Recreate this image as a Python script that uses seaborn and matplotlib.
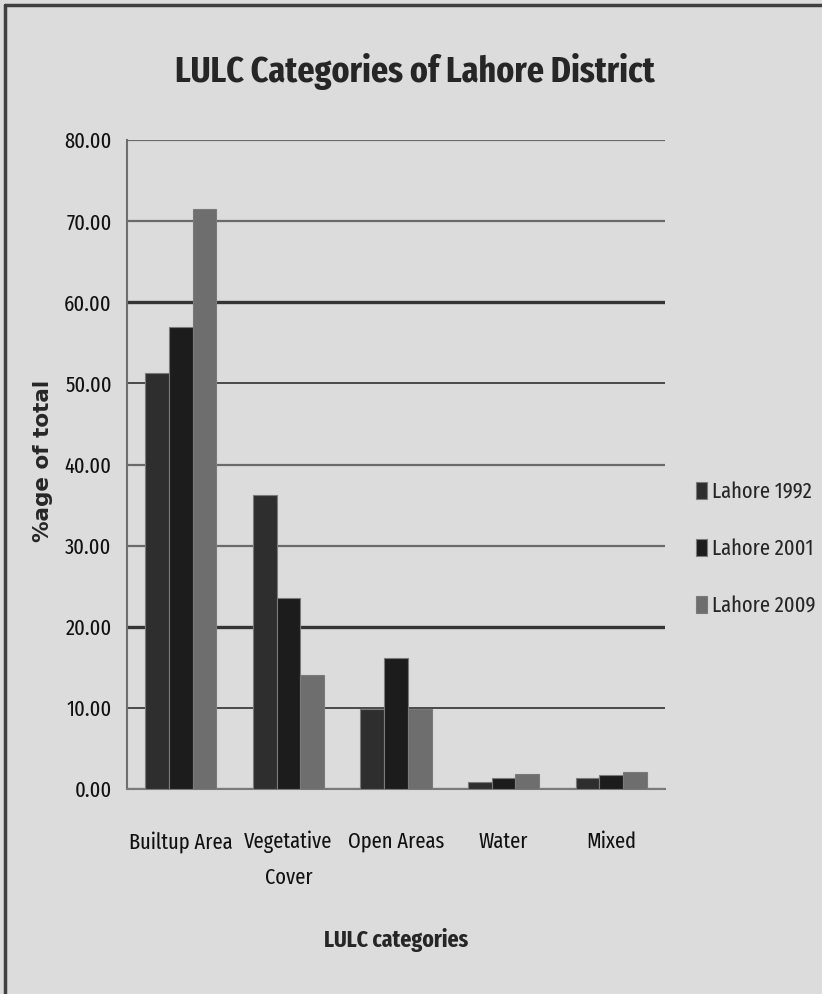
import pandas as pd
import matplotlib
matplotlib.use("Agg")
import matplotlib.pyplot as plt
from matplotlib.lines import Line2D
import seaborn as sns

# --- data ---
categories = ["Builtup Area", "Vegetative\nCover", "Open Areas", "Water", "Mixed"]
series_names = ["Lahore 1992", "Lahore 2001", "Lahore 2009"]
lahore_1992 = [51.3, 36.3, 9.9, 0.9, 1.4]
lahore_2001 = [57.0, 23.5, 16.1, 1.4, 1.7]
lahore_2009 = [71.5, 14.0, 9.9, 1.9, 2.1]
y_ticks = [0, 10, 20, 30, 40, 50, 60, 70, 80]

bar_colors = ["#2e2e2e", "#1c1c1c", "#6e6e6e"]
bg = "#dcdcdc"

df = pd.DataFrame({
    "category": categories * 3,
    "series": [s for s in series_names for _ in categories],
    "value": lahore_1992 + lahore_2001 + lahore_2009,
})

sns.set_style("white")
plt.rcParams["font.family"] = ["Fira Sans Extra Condensed", "DejaVu Sans"]

fig = plt.figure(figsize=(8.22, 9.94), dpi=100, facecolor=bg)
ax = fig.add_axes([127 / 822, 1 - 789 / 994, (665 - 127) / 822, (789 - 140) / 994])
ax.set_facecolor(bg)

sns.barplot(data=df, x="category", y="value", hue="series", order=categories,
            hue_order=series_names, palette=bar_colors, width=0.66, gap=0,
            edgecolor="#7a7a7a", linewidth=0.8, ax=ax, zorder=3)

ax.set_ylim(0, 80)
ax.set_yticks(y_ticks)
ax.set_yticklabels([f"{v:.2f}" for v in y_ticks], fontsize=16, color="#111")
ax.tick_params(axis="y", direction="out", length=6, width=1.2, color="#6e6e6e", pad=5)
ax.tick_params(axis="x", length=0, pad=30, labelsize=16, labelcolor="#111")
for lbl in ax.get_xticklabels():
    lbl.set_linespacing(1.85)

# gridlines (some come out darker in the original)
ax.yaxis.grid(True, zorder=0)
ax.set_axisbelow(True)
for v, gl in zip(y_ticks, ax.get_ygridlines()):
    if v in (20, 60):
        gl.set_color("#353535"); gl.set_linewidth(2.4)
    elif v in (10, 50):
        gl.set_color("#4a4a4a"); gl.set_linewidth(1.4)
    else:
        gl.set_color("#6a6a6a"); gl.set_linewidth(1.6)

for side in ["top", "right"]:
    ax.spines[side].set_visible(False)
ax.spines["left"].set_color("#6e6e6e")
ax.spines["left"].set_linewidth(1.5)
ax.spines["bottom"].set_color("#7a7a7a")
ax.spines["bottom"].set_linewidth(1.5)

ax.set_xlabel("LULC categories", fontsize=17, fontweight="bold", labelpad=28)
ax.set_ylabel("%age of total", fontsize=15.5, fontweight="bold",
              family=["DejaVu Sans"])
ax.yaxis.set_label_coords(-0.138, 0.505)

fig.text(415 / 822, 1 - 72 / 994, "LULC Categories of Lahore District",
         ha="center", va="center", fontsize=26.5, fontweight="bold")

ax.legend(title=None, frameon=False, fontsize=16, loc="center left",
          bbox_to_anchor=(696 / 822, 1 - 549 / 994), bbox_transform=fig.transFigure,
          handlelength=0.5, handleheight=0.8, handletextpad=0.2,
          labelspacing=1.6, borderaxespad=0, borderpad=0)

# chart border like the source screenshot
fig.add_artist(Line2D([5 / 822, 5 / 822], [0, 1 - 5 / 994], transform=fig.transFigure,
                      color="#404040", linewidth=2.5))
fig.add_artist(Line2D([5 / 822, 1], [1 - 5 / 994, 1 - 5 / 994], transform=fig.transFigure,
                      color="#404040", linewidth=2.5))

fig.savefig("out.png", dpi=100, facecolor=bg)
